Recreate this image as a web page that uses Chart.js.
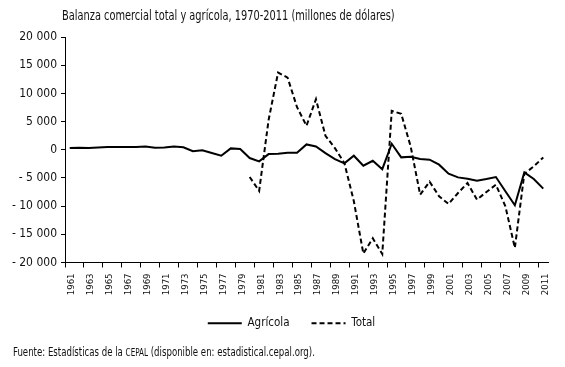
<!DOCTYPE html>
<html>
<head>
<meta charset="utf-8">
<script src="https://cdn.jsdelivr.net/npm/chart.js@4"></script>
<style>
	body { margin: 0; background: #fff; }
	#wrap { position: relative; width: 565px; height: 367px; }
	#title, #source {
		position: absolute;
		font-family: "DejaVu Sans Condensed", "Liberation Sans Narrow", "DejaVu Sans", sans-serif;
		color: #111;
		white-space: nowrap;
		transform-origin: 0 50%;
		line-height: 1;
	}
	#title { left: 62px; top: 8px; font-size: 14px; }
	#source { left: 13px; top: 346px; font-size: 12.5px; }
	#source .sc { font-size: 10.5px; }
</style>
</head>
<body>
<div id="wrap">
	<canvas id="lineChart"></canvas>
	<div id="title">Balanza comercial total y agrícola, 1970-2011 (millones de dólares)</div>
	<div id="source">Fuente: Estadísticas de la <span class="sc">CEPAL</span> (disponible en: estadistical.cepal.org).</div>
</div>
<script>
// chart data
const years = [
	"1961", "1962", "1963", "1964", "1965", "1966", "1967", "1968", "1969", "1970",
	"1971", "1972", "1973", "1974", "1975", "1976", "1977", "1978", "1979", "1980",
	"1981", "1982", "1983", "1984", "1985", "1986", "1987", "1988", "1989", "1990",
	"1991", "1992", "1993", "1994", "1995", "1996", "1997", "1998", "1999", "2000",
	"2001", "2002", "2003", "2004", "2005", "2006", "2007", "2008", "2009", "2010",
	"2011",
];

const agricola = [
	300, 350, 300, 400, 470, 500, 470, 500, 590, 350,
	400, 590, 450, -250, -100, -590, -1060, 240, 120, -1470,
	-2060, -770, -710, -530, -530, 940, 590, -590, -1650, -2420,
	-1060, -2830, -1950, -3450, 1060, -1350, -1240, -1650, -1770, -2650,
	-4250, -4900, -5130, -5490, -5190, -4840, -7370, -9850, -4010, -5190,
	-6900,
];

const total = [
	null, null, null, null, null, null, null, null, null, null,
	null, null, null, null, null, null, null, null, null, -4830,
	-7300, 5310, 13690, 12800, 7550, 4250, 8970, 2480, 290, -2360,
	-9140, -18400, -15700, -18500, 6900, 6370, 590, -7960, -5660, -8260,
	-9620, -7670, -5900, -8850, -7490, -6200, -10030, -17400, -4250, -2950,
	-1360,
];

const yTicks = [-20000, -15000, -10000, -5000, 0, 5000, 10000, 15000, 20000];

const fontFamily = '"DejaVu Sans Condensed", "Liberation Sans Narrow", "DejaVu Sans", sans-serif';
const ink = "#111";

// "- 5 000" style labels
function formatThousands(v) {
	const s = Math.abs(v).toString().replace(/\B(?=(\d{3})+(?!\d))/g, " ");
	return v < 0 ? "- " + s : s;
}

// squeeze the html texts to the widths of the condensed original
function fitWidth(id, target) {
	const el = document.getElementById(id);
	el.style.transform = "scaleX(" + target / el.offsetWidth + ")";
}

// the legend sits a bit right of the canvas centre in the original
const legendShift = {
	id: "legendShift",
	afterLayout(chart) {
		if (chart.legend) {
			chart.legend.left += 35;
		}
	},
};

document.addEventListener("DOMContentLoaded", function () {
	fitWidth("title", 333);
	fitWidth("source", 302);
	createLineGraph();
});

function createLineGraph() {
	const canvas = document.getElementById("lineChart");
	canvas.width = 565;
	canvas.height = 367;

	new Chart(canvas, {
		type: "line",
		data: {
			labels: years,
			datasets: [
				{
					label: "Agrícola",
					data: agricola,
					borderColor: "#000",
					backgroundColor: "#000",
					borderWidth: 2,
					pointRadius: 0,
					tension: 0,
					fill: false,
				},
				{
					label: "Total",
					data: total,
					borderColor: "#000",
					backgroundColor: "#000",
					borderWidth: 2,
					borderDash: [5, 3],
					pointRadius: 0,
					tension: 0,
					fill: false,
					spanGaps: false,
				},
			],
		},
		plugins: [legendShift],
		options: {
			responsive: false,
			animation: false,
			layout: {
				padding: { left: 0, right: 17, top: 37, bottom: 28 },
			},
			plugins: {
				title: { display: false },
				tooltip: { enabled: false },
				legend: {
					position: "bottom",
					labels: {
						usePointStyle: true,
						pointStyle: "line",
						pointStyleWidth: 34,
						padding: 22,
						color: ink,
						font: { family: fontFamily, size: 11.5 },
						generateLabels: function (chart) {
							const items = Chart.defaults.plugins.legend.labels.generateLabels(chart);
							items.forEach((item) => {
								const ds = chart.data.datasets[item.datasetIndex];
								item.lineDash = ds.borderDash || [];
								item.lineWidth = ds.borderWidth;
								item.strokeStyle = ds.borderColor;
							});
							return items;
						},
					},
				},
			},
			scales: {
				x: {
					offset: true,
					grid: {
						offset: true,
						drawOnChartArea: false,
						drawTicks: true,
						tickLength: 5,
						color: (ctx) => (ctx.index % 2 === 0 ? "#000" : "rgba(0,0,0,0)"),
					},
					border: { display: true, color: "#000", width: 1 },
					ticks: {
						autoSkip: false,
						minRotation: 90,
						maxRotation: 90,
						padding: 6,
						labelOffset: 2,
						color: ink,
						font: { family: fontFamily, size: 9.5 },
						callback: function (value, index) {
							return index % 2 === 0 ? years[index] : "";
						},
					},
					afterFit: function (scale) {
						scale.height = 33;
					},
				},
				y: {
					min: -20000,
					max: 20000,
					afterBuildTicks: function (scale) {
						scale.ticks = yTicks.map((v) => ({ value: v }));
					},
					grid: {
						drawOnChartArea: false,
						drawTicks: true,
						tickLength: 4,
						color: "#000",
					},
					border: { display: true, color: "#000", width: 1 },
					ticks: {
						padding: 4,
						color: ink,
						font: { family: fontFamily, size: 12 },
						callback: (value) => formatThousands(value),
					},
					afterFit: function (scale) {
						scale.width = 65;
					},
				},
			},
		},
	});
}
</script>
</body>
</html>
